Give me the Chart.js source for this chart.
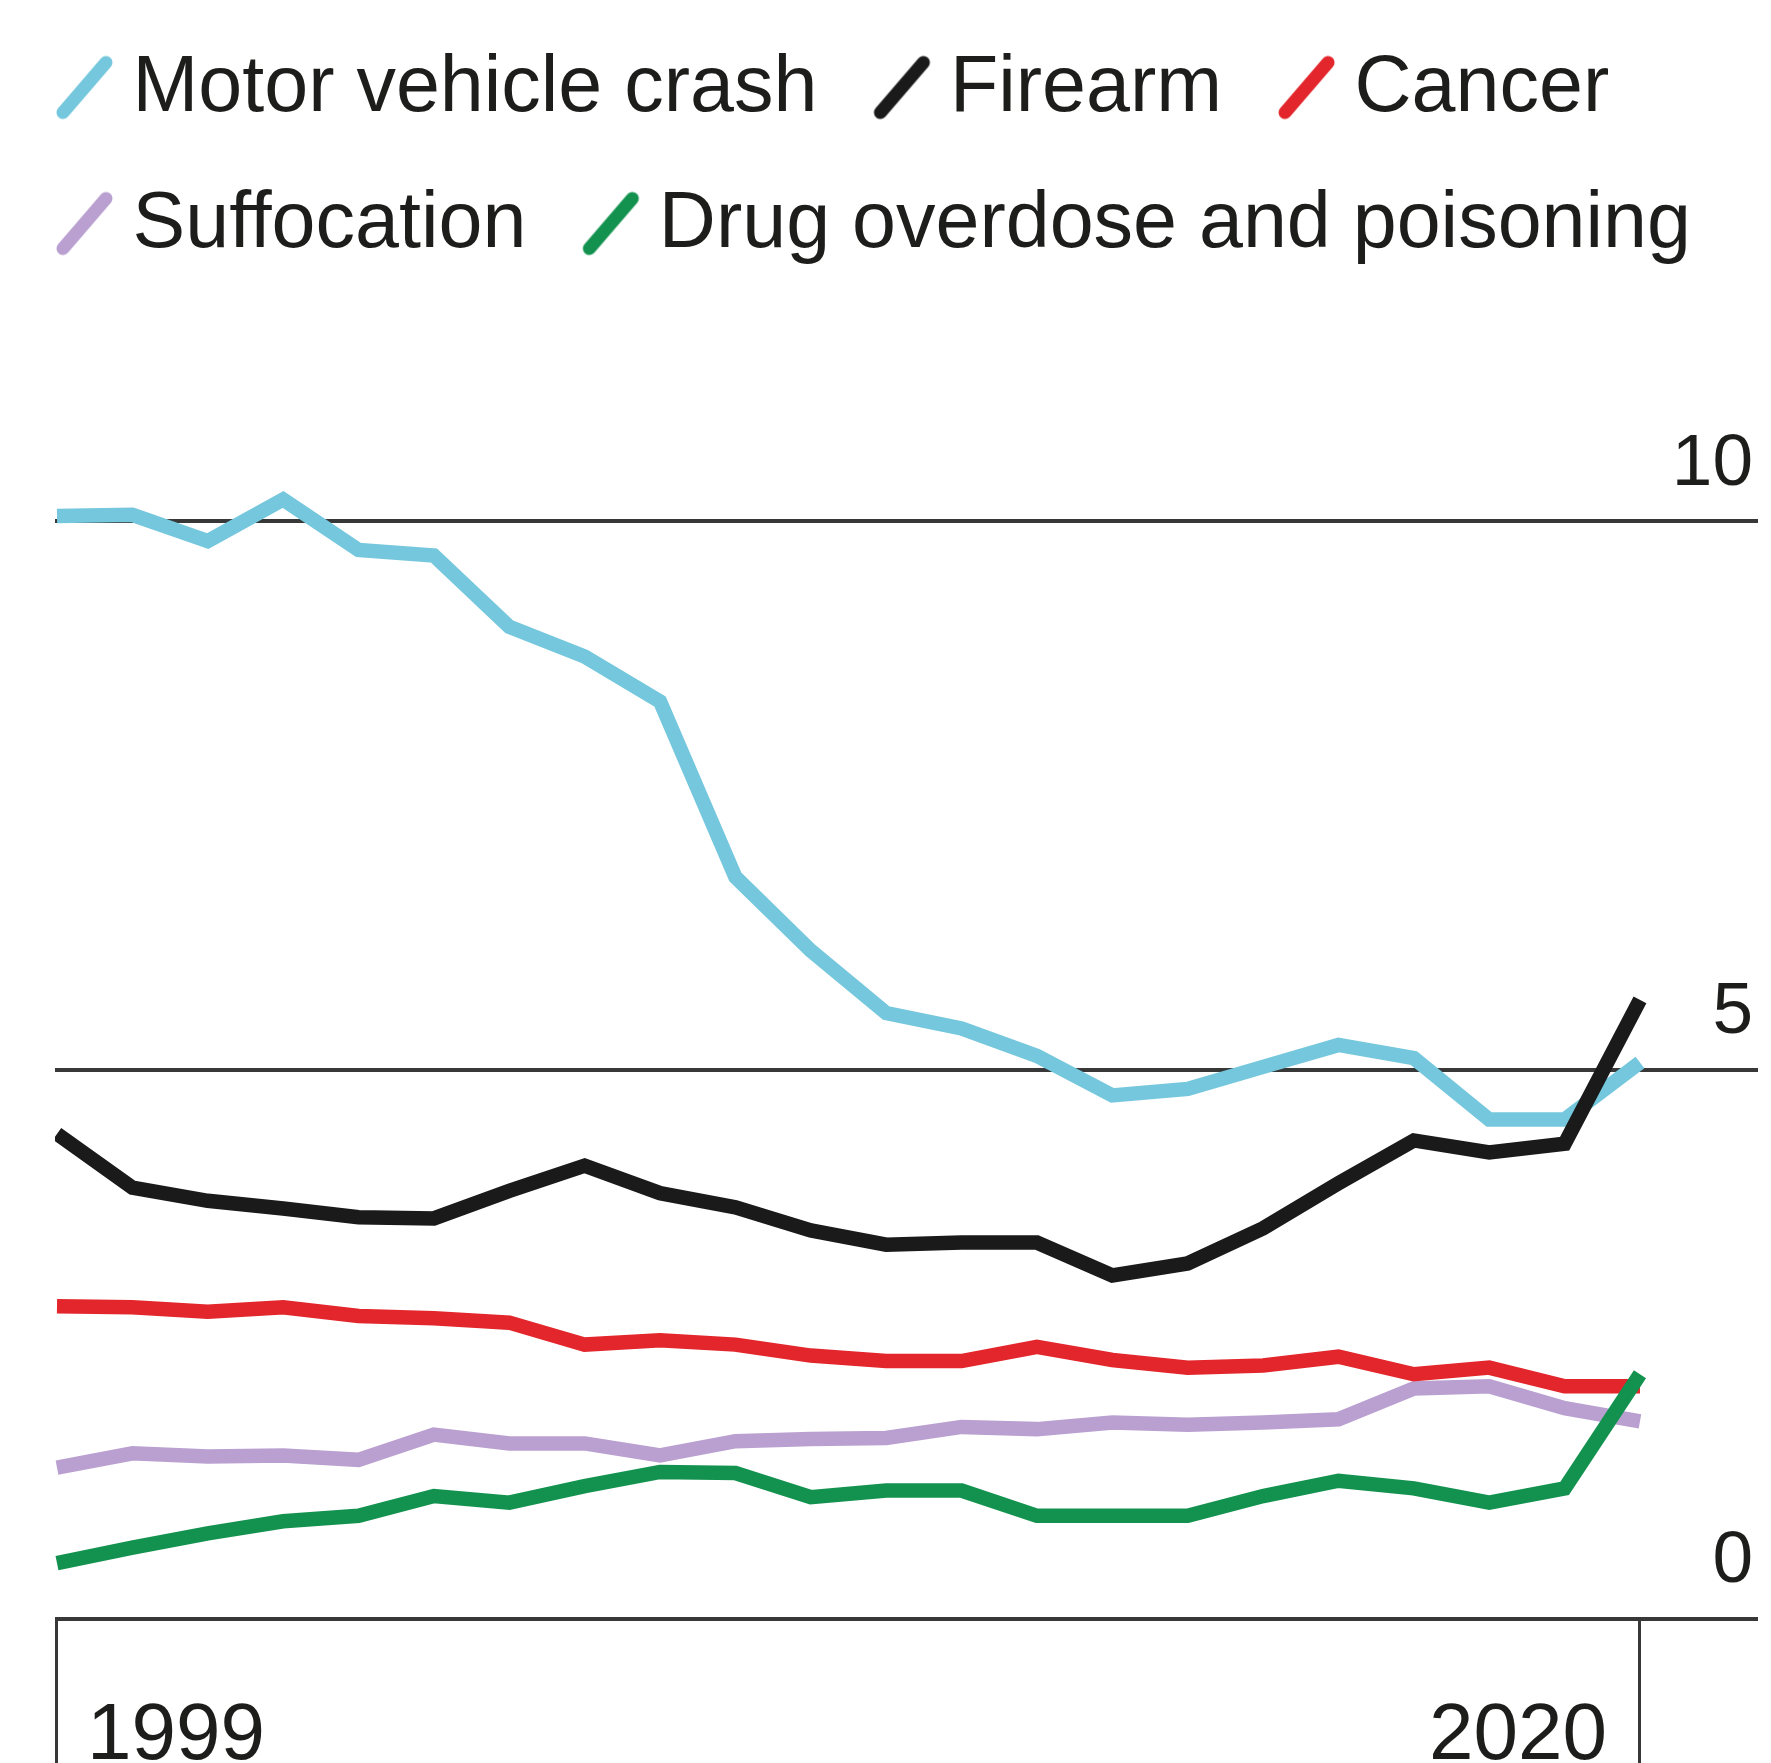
<!DOCTYPE html>
<html><head><meta charset="utf-8">
<script src="https://cdn.jsdelivr.net/npm/chart.js@4.4.1/dist/chart.umd.min.js"></script>
<style>html,body{margin:0;padding:0;background:#fff;}canvas{display:block;}</style>
</head><body>
<canvas id="c" width="1771" height="1763"></canvas>
<script>
const years = [1999,2000,2001,2002,2003,2004,2005,2006,2007,2008,2009,2010,2011,2012,2013,2014,2015,2016,2017,2018,2019,2020];
const motorVehicleCrash = [10.05,10.06,9.82,10.20,9.74,9.69,9.04,8.77,8.36,6.76,6.09,5.52,5.38,5.13,4.77,4.83,5.03,5.23,5.11,4.55,4.55,5.07];
const firearm = [4.42,3.93,3.81,3.74,3.66,3.65,3.90,4.13,3.88,3.75,3.54,3.41,3.43,3.43,3.13,3.24,3.56,3.97,4.36,4.25,4.33,5.64];
const cancer = [2.85,2.84,2.80,2.84,2.76,2.74,2.70,2.50,2.54,2.50,2.40,2.35,2.35,2.48,2.36,2.29,2.31,2.39,2.23,2.29,2.12,2.12];
const suffocation = [1.38,1.51,1.48,1.49,1.45,1.68,1.60,1.60,1.49,1.62,1.64,1.65,1.75,1.73,1.79,1.77,1.79,1.82,2.10,2.12,1.92,1.80];
const drugOverdose = [0.51,0.65,0.78,0.89,0.94,1.12,1.06,1.21,1.34,1.33,1.11,1.17,1.17,0.94,0.94,0.94,1.12,1.26,1.19,1.06,1.19,2.23];
const seriesNames = ['Motor vehicle crash','Firearm','Cancer','Suffocation','Drug overdose and poisoning'];
const seriesColors = ['#74c7dc','#1a1a1a','#e2262b','#b9a0d0','#13924f'];
const seriesOrder = [2,1,3,4,0];
const yTickValues = [0,5,10];
const xTickValues = [1999,2020];
const xTickLabels = ['1999','2020'];

const FONT = "'Liberation Sans', Arial, Helvetica, sans-serif";
const TEXT = '#1d1d1b';
const GRID = '#383838';

function markerImage(color){
  const c = document.createElement('canvas');
  c.width = 100; c.height = 80;
  const g = c.getContext('2d');
  g.strokeStyle = color; g.lineWidth = 13; g.lineCap = 'round';
  g.beginPath(); g.moveTo(38, 63); g.lineTo(81, 13); g.stroke();
  return c;
}
const markers = seriesColors.map(markerImage);

const allSeries = [motorVehicleCrash, firearm, cancer, suffocation, drugOverdose];
const datasets = allSeries.map((arr, i) => ({
  label: seriesNames[i],
  data: years.map((yr, j) => ({x: yr, y: arr[j]})),
  xAxisID: 'x',
  yAxisID: 'y',
  borderColor: seriesColors[i],
  backgroundColor: seriesColors[i],
  borderWidth: 14.5,
  borderCapStyle: 'butt',
  borderJoinStyle: 'miter',
  pointRadius: 0,
  tension: 0,
  fill: false,
  order: seriesOrder[i]
}));

const yearLabels = {
  id: 'yearLabels',
  afterDraw(chart){
    const sx = chart.scales.x, ctx = chart.ctx;
    const base = chart.chartArea.bottom + 140;
    ctx.save();
    ctx.font = '80px ' + FONT;
    ctx.fillStyle = TEXT;
    ctx.textBaseline = 'alphabetic';
    ctx.textAlign = 'left';
    ctx.fillText(xTickLabels[0], sx.getPixelForValue(xTickValues[0]) + 30, base);
    ctx.textAlign = 'right';
    ctx.fillText(xTickLabels[1], sx.getPixelForValue(xTickValues[1]) - 33, base);
    ctx.restore();
  }
};

Chart.defaults.font.family = FONT;
Chart.defaults.color = TEXT;

new Chart(document.getElementById('c'), {
  type: 'line',
  data: { datasets },
  options: {
    responsive: false,
    animation: false,
    devicePixelRatio: 1,
    layout: { padding: { top: -7, left: 0, right: 0, bottom: 0 } },
    plugins: {
      tooltip: { enabled: false },
      legend: {
        position: 'top',
        align: 'start',
        labels: {
          usePointStyle: true,
          boxWidth: 36,
          padding: 57,
          color: TEXT,
          font: { size: 79, family: FONT },
          generateLabels(chart){
            return chart.data.datasets.map((ds, i) => ({
              text: ds.label,
              fillStyle: ds.borderColor,
              strokeStyle: ds.borderColor,
              lineWidth: 0,
              pointStyle: markers[i],
              hidden: false,
              datasetIndex: i,
              fontColor: TEXT
            }));
          }
        }
      }
    },
    scales: {
      x: {
        type: 'linear',
        min: 1998.9735,
        max: 2021.5657,
        border: { display: false },
        grid: { display: true, drawOnChartArea: false, drawTicks: true, tickLength: 144, color: GRID, tickColor: GRID, lineWidth: 3, tickWidth: 3 },
        ticks: { display: false },
        afterBuildTicks(s){ s.ticks = xTickValues.map(v => ({value: v})); },
        afterFit(s){ s.height = 144; }
      },
      y: {
        type: 'linear',
        position: 'right',
        min: 0,
        max: 12.245,
        border: { display: false },
        grid: { display: true, drawOnChartArea: true, drawTicks: false, color: GRID, lineWidth: 4 },
        ticks: {
          mirror: true,
          padding: -5,
          labelOffset: -57,
          color: TEXT,
          font: { size: 73, family: FONT },
          callback: v => String(v)
        },
        afterBuildTicks(s){ s.ticks = yTickValues.map(v => ({value: v})); },
        afterFit(s){ s.width = 13; }
      },
      yL: {
        type: 'linear',
        position: 'left',
        display: true,
        border: { display: false },
        grid: { display: false },
        ticks: { display: false },
        afterFit(s){ s.width = 55; }
      }
    }
  },
  plugins: [yearLabels]
});
</script>
</body></html>
